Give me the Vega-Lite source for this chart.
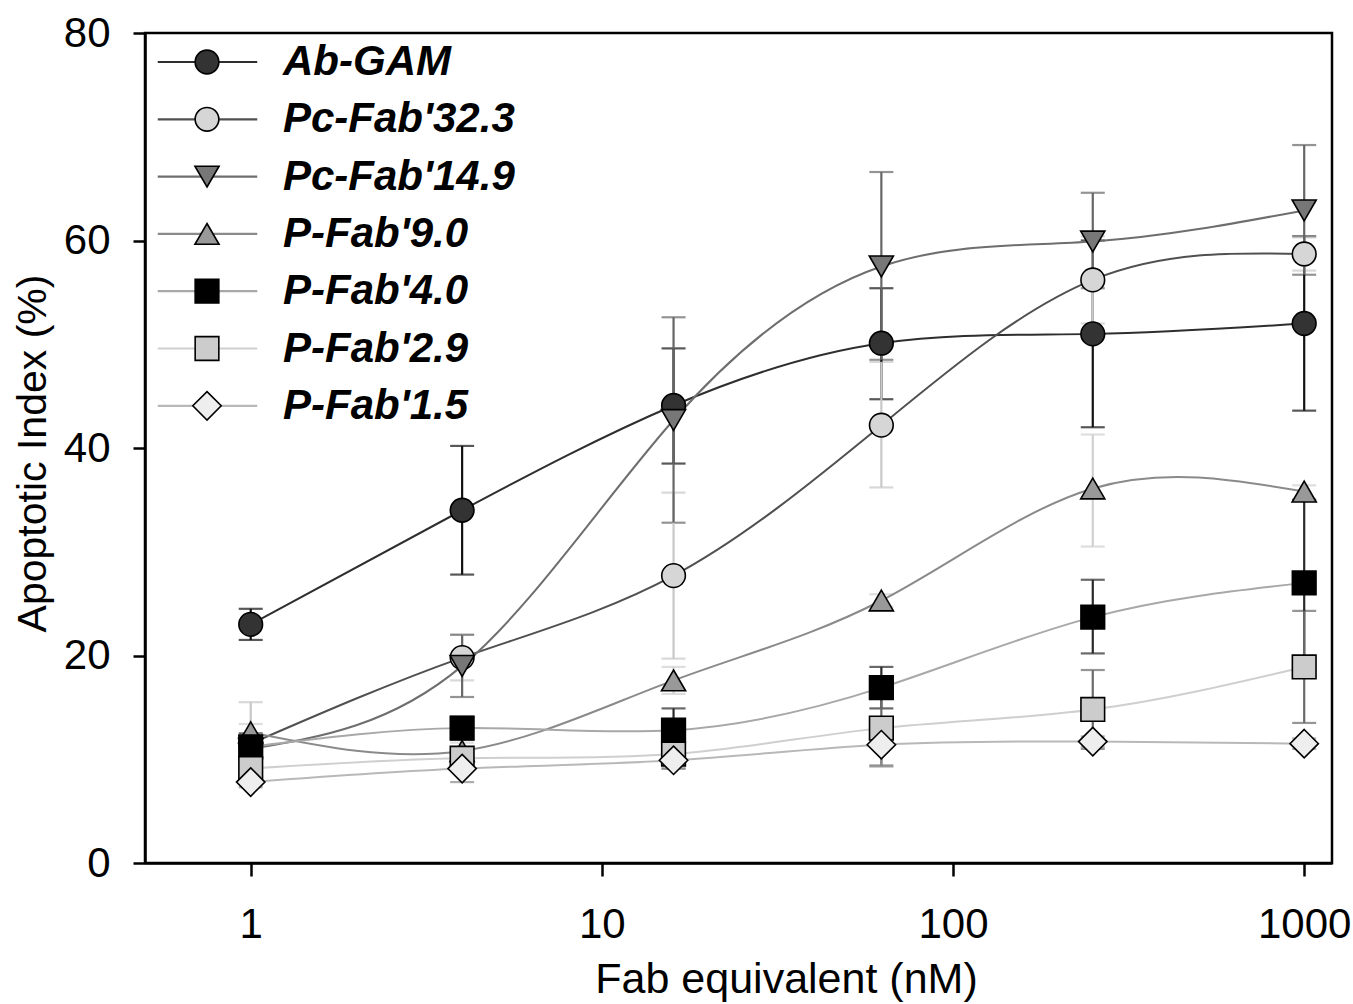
{
  "$schema": "https://vega.github.io/schema/vega-lite/v6.json",
  "autosize": {"type": "none"},
  "width": 1187,
  "height": 830,
  "padding": {"left": 145, "top": 33, "right": 21, "bottom": 141},
  "background": "white",
  "config": {
    "font": "Liberation Sans",
    "view": {"stroke": "black", "strokeWidth": 2.5},
    "axis": {"grid": false, "domainColor": "black", "domainWidth": 2.5, "tickColor": "black", "tickWidth": 2.5, "labelColor": "black", "titleColor": "black", "labelFontSize": 42, "titleFontSize": 42, "titleFontWeight": "normal", "labelFont": "Liberation Sans", "titleFont": "Liberation Sans"}
  },
  "data": {"values": [
    {"series": "Ab-GAM", "key": "Ab-GAM marker", "x": 1, "y": 23.0, "lo": 21.5, "hi": 24.5},
    {"series": "Ab-GAM", "key": "Ab-GAM marker", "x": 4, "y": 34.0, "lo": 27.8, "hi": 40.2},
    {"series": "Ab-GAM", "key": "Ab-GAM marker", "x": 16, "y": 44.1, "lo": 38.5, "hi": 49.6},
    {"series": "Ab-GAM", "key": "Ab-GAM marker", "x": 62.5, "y": 50.1, "lo": 44.7, "hi": 55.4},
    {"series": "Ab-GAM", "key": "Ab-GAM marker", "x": 250, "y": 51.0, "lo": 42.0, "hi": 60.0},
    {"series": "Ab-GAM", "key": "Ab-GAM marker", "x": 1000, "y": 52.0, "lo": 43.6, "hi": 60.4},
    {"series": "Pc-Fab'32.3", "key": "Pc-Fab'32.3 marker", "x": 1, "y": 11.5, "lo": 7.5, "hi": 15.5},
    {"series": "Pc-Fab'32.3", "key": "Pc-Fab'32.3 marker", "x": 4, "y": 19.8, "lo": 17.6, "hi": 22.0},
    {"series": "Pc-Fab'32.3", "key": "Pc-Fab'32.3 marker", "x": 16, "y": 27.7, "lo": 19.7, "hi": 35.7},
    {"series": "Pc-Fab'32.3", "key": "Pc-Fab'32.3 marker", "x": 62.5, "y": 42.2, "lo": 36.2, "hi": 48.3},
    {"series": "Pc-Fab'32.3", "key": "Pc-Fab'32.3 marker", "x": 250, "y": 56.2, "lo": 52.0, "hi": 60.4},
    {"series": "Pc-Fab'32.3", "key": "Pc-Fab'32.3 marker", "x": 1000, "y": 58.7, "lo": 57.1, "hi": 60.3},
    {"series": "Pc-Fab'14.9", "key": "Pc-Fab'14.9 marker", "x": 1, "y": 11.0, "lo": 10.0, "hi": 12.0},
    {"series": "Pc-Fab'14.9", "key": "Pc-Fab'14.9 marker", "x": 4, "y": 19.0, "lo": 16.0, "hi": 22.0},
    {"series": "Pc-Fab'14.9", "key": "Pc-Fab'14.9 marker", "x": 16, "y": 42.7, "lo": 32.8, "hi": 52.6},
    {"series": "Pc-Fab'14.9", "key": "Pc-Fab'14.9 marker", "x": 62.5, "y": 57.5, "lo": 48.5, "hi": 66.6},
    {"series": "Pc-Fab'14.9", "key": "Pc-Fab'14.9 marker", "x": 250, "y": 59.9, "lo": 55.4, "hi": 64.6},
    {"series": "Pc-Fab'14.9", "key": "Pc-Fab'14.9 marker", "x": 1000, "y": 62.9, "lo": 56.7, "hi": 69.2},
    {"series": "P-Fab'9.0", "key": "P-Fab'9.0 marker", "x": 1, "y": 12.6, "lo": 11.8, "hi": 13.4},
    {"series": "P-Fab'9.0", "key": "P-Fab'9.0 marker", "x": 4, "y": 10.8, "lo": 10.0, "hi": 11.6},
    {"series": "P-Fab'9.0", "key": "P-Fab'9.0 marker", "x": 16, "y": 17.6, "lo": 16.3, "hi": 18.9},
    {"series": "P-Fab'9.0", "key": "P-Fab'9.0 marker", "x": 62.5, "y": 25.3, "lo": 24.7, "hi": 25.9},
    {"series": "P-Fab'9.0", "key": "P-Fab'9.0 marker", "x": 250, "y": 36.1, "lo": 30.5, "hi": 41.3},
    {"series": "P-Fab'9.0", "key": "P-Fab'9.0 marker", "x": 1000, "y": 35.8, "lo": 35.1, "hi": 36.4},
    {"series": "P-Fab'4.0", "key": "P-Fab'4.0 marker", "x": 1, "y": 11.2, "lo": 9.9, "hi": 12.5},
    {"series": "P-Fab'4.0", "key": "P-Fab'4.0 marker", "x": 4, "y": 13.0, "lo": 11.9, "hi": 14.1},
    {"series": "P-Fab'4.0", "key": "P-Fab'4.0 marker", "x": 16, "y": 12.8, "lo": 10.7, "hi": 14.9},
    {"series": "P-Fab'4.0", "key": "P-Fab'4.0 marker", "x": 62.5, "y": 16.9, "lo": 14.9, "hi": 18.9},
    {"series": "P-Fab'4.0", "key": "P-Fab'4.0 marker", "x": 250, "y": 23.7, "lo": 20.2, "hi": 27.3},
    {"series": "P-Fab'4.0", "key": "P-Fab'4.0 marker", "x": 1000, "y": 27.0, "lo": 19.0, "hi": 35.0},
    {"series": "P-Fab'2.9", "key": "P-Fab'2.9 marker", "x": 1, "y": 9.1, "lo": 8.1, "hi": 10.1},
    {"series": "P-Fab'2.9", "key": "P-Fab'2.9 marker", "x": 4, "y": 10.1, "lo": 9.2, "hi": 11.0},
    {"series": "P-Fab'2.9", "key": "P-Fab'2.9 marker", "x": 16, "y": 10.5, "lo": 9.1, "hi": 11.9},
    {"series": "P-Fab'2.9", "key": "P-Fab'2.9 marker", "x": 62.5, "y": 13.0, "lo": 9.4, "hi": 16.6},
    {"series": "P-Fab'2.9", "key": "P-Fab'2.9 marker", "x": 250, "y": 14.8, "lo": 11.0, "hi": 18.6},
    {"series": "P-Fab'2.9", "key": "P-Fab'2.9 marker", "x": 1000, "y": 18.9, "lo": 13.5, "hi": 24.3},
    {"series": "P-Fab'1.5", "key": "P-Fab'1.5 marker", "x": 1, "y": 7.8, "lo": 7.3, "hi": 8.3},
    {"series": "P-Fab'1.5", "key": "P-Fab'1.5 marker", "x": 4, "y": 9.1, "lo": 7.8, "hi": 10.4},
    {"series": "P-Fab'1.5", "key": "P-Fab'1.5 marker", "x": 16, "y": 9.9, "lo": 9.1, "hi": 10.7},
    {"series": "P-Fab'1.5", "key": "P-Fab'1.5 marker", "x": 62.5, "y": 11.4, "lo": 9.3, "hi": 13.5},
    {"series": "P-Fab'1.5", "key": "P-Fab'1.5 marker", "x": 250, "y": 11.7, "lo": 11.2, "hi": 12.2},
    {"series": "P-Fab'1.5", "key": "P-Fab'1.5 marker", "x": 1000, "y": 11.5, "lo": 11.0, "hi": 12.0}
  ]},
  "layer": [
    {
      "mark": {"type": "errorbar", "ticks": {"size": 24, "thickness": 2.2}, "thickness": 2.2},
      "encoding": {
        "x": {"field": "x", "type": "quantitative", "scale": {"type": "log", "domain": [0.5, 1200], "nice": false},
          "axis": {"values": [1, 10, 100, 1000], "format": "d", "tickSize": 13, "labelBaseline": "alphabetic", "labelPadding": 61, "title": "Fab equivalent (nM)", "titleX": 641, "titleY": 129, "titleAlign": "center", "titleBaseline": "alphabetic", "titleAnchor": "middle", "titleFontSize": 43}},
        "y": {"field": "lo", "type": "quantitative", "scale": {"domain": [0, 80], "nice": false},
          "axis": {"values": [0, 20, 40, 60, 80], "tickSize": 12, "labelPadding": 23, "title": "Apoptotic Index (%)", "titleX": -100, "titleY": 420, "titleAngle": -90, "titleAlign": "center", "titleBaseline": "alphabetic", "titleAnchor": "middle", "titleFontSize": 41}},
        "y2": {"field": "hi"},
        "color": {"field": "series", "type": "nominal", "legend": null,
          "scale": {"range": ["#111111", "#8a8a8a", "#6a6a6a", "#2a2a2a", "#d0d0d0", "#666666", "#c8c8c8"]}}
      }
    },
    {
      "mark": {"type": "line", "interpolate": "natural", "strokeWidth": 2},
      "encoding": {
        "x": {"field": "x", "type": "quantitative"},
        "y": {"field": "y", "type": "quantitative"},
        "stroke": {"field": "series", "type": "nominal",
          "scale": {"domain": ["Ab-GAM", "Pc-Fab'32.3", "Pc-Fab'14.9", "P-Fab'9.0", "P-Fab'4.0", "P-Fab'2.9", "P-Fab'1.5"],
            "range": ["#2e2e2e", "#505050", "#6e6e6e", "#8a8a8a", "#a8a8a8", "#cfcfcf", "#b8b8b8"]},
          "legend": {"title": null, "orient": "none", "legendX": 12, "legendY": 8,
            "symbolType": "M-2.5,0H2.5", "symbolSize": 1584, "symbolStrokeWidth": 2.2, "symbolOffset": 29.5,
            "labelFont": "Liberation Sans", "labelFontSize": 42, "labelFontWeight": "bold", "labelFontStyle": "italic", "labelColor": "black",
            "labelOffset": 54.5, "labelLimit": 500, "rowPadding": 15.3}}
      }
    },
    {
      "mark": {"type": "point", "filled": true, "size": 560, "stroke": "black", "strokeWidth": 1.6, "opacity": 1},
      "encoding": {
        "x": {"field": "x", "type": "quantitative"},
        "y": {"field": "y", "type": "quantitative"},
        "shape": {"field": "key", "type": "nominal",
          "scale": {"domain": ["Ab-GAM marker", "Pc-Fab'32.3 marker", "Pc-Fab'14.9 marker", "P-Fab'9.0 marker", "P-Fab'4.0 marker", "P-Fab'2.9 marker", "P-Fab'1.5 marker"],
            "range": ["circle", "circle", "M0,0.88L1.02,-0.88L-1.02,-0.88Z", "M0,-0.88L1.02,0.88L-1.02,0.88Z", "square", "square", "M0,-1.2L1.2,0L0,1.2L-1.2,0Z"]},
          "legend": {"title": null, "orient": "none", "legendX": 41, "legendY": 8,
            "symbolSize": 560, "symbolStrokeWidth": 1.6,
            "labelFont": "Liberation Sans", "labelFontSize": 42, "labelFontWeight": "bold", "labelFontStyle": "italic", "labelExpr": "''",
            "labelLimit": 500, "rowPadding": 15.3}},
        "fill": {"field": "key", "type": "nominal",
          "scale": {"domain": ["Ab-GAM marker", "Pc-Fab'32.3 marker", "Pc-Fab'14.9 marker", "P-Fab'9.0 marker", "P-Fab'4.0 marker", "P-Fab'2.9 marker", "P-Fab'1.5 marker"],
            "range": ["#333333", "#d6d6d6", "#777777", "#999999", "#000000", "#cccccc", "#eeeeee"]},
          "legend": {"title": null, "orient": "none", "legendX": 41, "legendY": 8,
            "symbolSize": 560, "symbolStrokeWidth": 1.6,
            "labelFont": "Liberation Sans", "labelFontSize": 42, "labelFontWeight": "bold", "labelFontStyle": "italic", "labelExpr": "''",
            "labelLimit": 500, "rowPadding": 15.3}}
      }
    }
  ]
}
